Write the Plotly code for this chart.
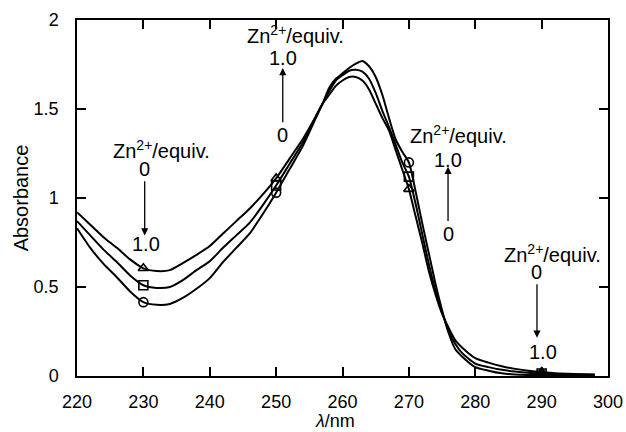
import plotly.graph_objects as go

# wavelengths (nm)
wavelength = [220, 222, 224, 226, 228, 230, 232, 234, 236, 238, 240, 242, 244, 246, 248,
              250, 252, 254, 256, 257, 258, 259, 260, 261, 262, 263, 264, 265, 266, 267,
              268, 269, 270, 271, 272, 273, 274, 275, 276, 277, 278, 280, 282, 284, 286,
              288, 290, 292, 294, 296, 298]

# absorbance, Zn2+ 0 equiv (triangle)
abs_0 = [0.92, 0.85, 0.78, 0.72, 0.655, 0.605, 0.59, 0.595, 0.635, 0.68, 0.73, 0.80, 0.87, 0.94, 1.02,
         1.11, 1.22, 1.33, 1.46, 1.53, 1.58, 1.63, 1.66, 1.68, 1.68, 1.66, 1.61, 1.53, 1.45, 1.38,
         1.27, 1.16, 1.05, 0.90, 0.75, 0.59, 0.46, 0.35, 0.27, 0.20, 0.16, 0.10, 0.075, 0.055, 0.04,
         0.03, 0.022, 0.015, 0.012, 0.01, 0.008]

# absorbance, Zn2+ 0.5 equiv (square)
abs_05 = [0.87, 0.79, 0.71, 0.64, 0.565, 0.51, 0.495, 0.50, 0.54, 0.595, 0.645, 0.72, 0.79, 0.86, 0.96,
          1.07, 1.19, 1.31, 1.46, 1.53, 1.60, 1.66, 1.69, 1.715, 1.72, 1.71, 1.67, 1.59, 1.49, 1.40,
          1.30, 1.20, 1.12, 0.97, 0.80, 0.63, 0.48, 0.36, 0.25, 0.18, 0.13, 0.07, 0.05, 0.035, 0.025,
          0.018, 0.014, 0.011, 0.009, 0.008, 0.007]

# absorbance, Zn2+ 1.0 equiv (circle)
abs_1 = [0.83, 0.72, 0.63, 0.555, 0.475, 0.415, 0.40, 0.405, 0.44, 0.49, 0.55, 0.64, 0.72, 0.80, 0.91,
         1.03, 1.16, 1.29, 1.45, 1.53, 1.62, 1.67, 1.70, 1.73, 1.755, 1.77, 1.74, 1.68, 1.58, 1.45,
         1.33, 1.26, 1.20, 1.04, 0.86, 0.69, 0.52, 0.37, 0.24, 0.15, 0.11, 0.05, 0.03, 0.015, 0.008,
         0.006, 0.005, 0.005, 0.004, 0.004, 0.004]

marker_wavelengths = [230, 250, 270, 290]

x_ticks = [220, 230, 240, 250, 260, 270, 280, 290, 300]
y_ticks = [0, 0.5, 1, 1.5, 2]
y_ticktext = ["0", "0.5", "1", "1.5", "2"]

FONT = "Liberation Sans, Arial, sans-serif"

fig = go.Figure()
series = [(abs_0, "triangle-up-open"), (abs_05, "square-open"), (abs_1, "circle-open")]
for ys, sym in series:
    fig.add_trace(go.Scatter(x=wavelength, y=ys, mode="lines",
                             line=dict(color="black", width=2, shape="spline", smoothing=0.6),
                             showlegend=False, hoverinfo="skip"))
    mx = marker_wavelengths
    my = [ys[wavelength.index(w)] for w in mx]
    fig.add_trace(go.Scatter(x=mx, y=my, mode="markers",
                             marker=dict(symbol=sym, size=9, color="black",
                                         line=dict(color="black", width=1.6)),
                             showlegend=False, hoverinfo="skip"))

ZN = "Zn<sup>2+</sup>/equiv."
ann = []
TF = dict(family=FONT, size=20, color="black")

def label(x, y, text, xanchor="center"):
    ann.append(dict(x=x, y=y, xref="x", yref="y", text=text, showarrow=False,
                    xanchor=xanchor, yanchor="middle", font=TF))

def arrow_label(x, y_text, y_head, text):
    # text sits at the arrow's tail; arrow points to y_head
    ann.append(dict(x=x, y=y_head, ax=x, ay=y_text, xref="x", yref="y", axref="x", ayref="y",
                    text=text, showarrow=True, arrowhead=2, arrowsize=1.1,
                    arrowwidth=1.3, arrowcolor="black", standoff=0, startstandoff=0,
                    font=TF))

# 230 nm group
label(225.1, 1.27, ZN, "left")
arrow_label(230.2, 1.165, 0.79, "0")
label(230.4, 0.74, "1.0")
# 251 nm group
label(245.3, 1.92, ZN, "left")
label(251.0, 1.785, "1.0")
arrow_label(251.0, 1.355, 1.73, "0")
# 276 nm group
label(269.9, 1.355, ZN, "left")
label(275.9, 1.215, "1.0")
arrow_label(275.9, 0.80, 1.175, "0")
# 290 nm group
label(284.0, 0.69, ZN, "left")
arrow_label(289.3, 0.585, 0.215, "0")
label(290.2, 0.135, "1.0")

# x-axis title placed below tick labels
ann.append(dict(x=0.485, y=-0.125, xref="paper", yref="paper", text="<i>λ</i>/nm",
                showarrow=False, xanchor="center", yanchor="middle",
                font=dict(family=FONT, size=18, color="black")))

fig.update_layout(
    width=626, height=432,
    margin=dict(l=77, r=18, t=20, b=56),
    plot_bgcolor="white", paper_bgcolor="white",
    font=dict(family=FONT, size=18, color="black"),
    annotations=ann,
    xaxis=dict(range=[220, 300], tickvals=x_ticks, ticks="inside", ticklen=9, tickwidth=1.5,
               tickcolor="black", showline=True, linecolor="black", linewidth=1.5, mirror="ticks",
               showgrid=False, zeroline=False, ticklabelstandoff=9, automargin=False),
    yaxis=dict(range=[0, 2], tickvals=y_ticks, ticktext=y_ticktext,
               ticks="inside", ticklen=9, tickwidth=1.5,
               tickcolor="black", showline=True, linecolor="black", linewidth=1.5, mirror="ticks",
               showgrid=False, zeroline=False, ticklabelstandoff=13, automargin=False,
               title=dict(text="Absorbance", standoff=0, font=dict(size=20))),
)

fig.write_html("out.html", config={"displayModeBar": False},
               post_script="document.body.style.margin='0';document.body.style.overflow='hidden';")
